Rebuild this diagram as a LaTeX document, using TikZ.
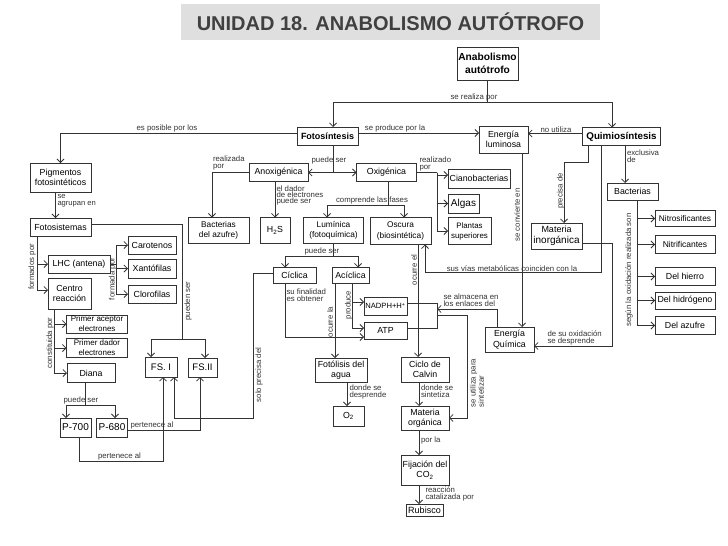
\documentclass[tikz,border=0pt]{standalone}
\usepackage{fontspec}
\setmainfont{Liberation Sans}
\usetikzlibrary{arrows.meta}
\definecolor{lc}{HTML}{333333}
\newcommand\myfs[2]{\fontsize{#1}{#2}\selectfont}
\begin{document}
\begin{tikzpicture}[x=1pt,y=-1pt,
  box/.style={draw=lc, fill=white, line width=0.8pt, align=center, inner sep=0pt, outer sep=0pt, text=black, font=\myfs{8.8}{10.5}},
  bbox/.style={box, font=\bfseries\myfs{9}{11}},
  lab/.style={font=\myfs{7.8}{7}, inner sep=0.3pt, align=left, text=lc},
  vlab/.style={lab, rotate=90, anchor=center},
  ln/.style={draw=lc, line width=0.8pt},
  arr/.style={ln, -{Straight Barb[length=3.5pt,width=7pt]}},
]
\useasboundingbox (0,0) rectangle (728,546);
\fill[white] (0,0) rectangle (728,546);
% title
\fill[gray!25] (181,4) rectangle (600,40);
\node[font=\bfseries\myfs{20}{22}, text=black!75] (title) at (390.5,22) {UNIDAD 18. ANABOLISMO AUTÓTROFO};

% nodes
\node[bbox, font=\bfseries\myfs{10.2}{13}, minimum width=61pt, minimum height=33pt] (anab) at (487.5,63.5) {Anabolismo\\autótrofo};
\node[bbox, minimum width=61pt, minimum height=18pt] (foto) at (327.5,136) {Fotosíntesis};
\node[box, minimum width=49pt, minimum height=27pt] (enlum) at (503.5,139.5) {Energía\\luminosa};
\node[bbox, font=\bfseries\myfs{9.8}{11}, minimum width=78pt, minimum height=18pt] (quimio) at (621.5,136.5) {Quimiosíntesis};
\node[box, minimum width=61pt, minimum height=29pt] (pigm) at (60.5,177.5) {Pigmentos\\fotosintéticos};
\node[box, minimum width=61pt, minimum height=18pt] (fotosis) at (60.5,227) {Fotosistemas};
\node[box, minimum width=48pt, minimum height=18pt] (carot) at (152,245) {Carotenos};
\node[box, minimum width=48pt, minimum height=19pt] (xanto) at (152,268.5) {Xantófilas};
\node[box, minimum width=48pt, minimum height=18pt] (cloro) at (152,294) {Clorofilas};
\node[box, minimum width=62pt, minimum height=18pt] (lhc) at (79,264) {LHC (antena)};
\node[box, minimum width=43pt, minimum height=31pt] (centro) at (69.5,293.5) {Centro\\reacción};
\node[box, font=\myfs{8}{10}, minimum width=61pt, minimum height=18pt] (aceptor) at (97,324) {Primer aceptor\\electrones};
\node[box, font=\myfs{8}{10}, minimum width=61pt, minimum height=19pt] (dador) at (97,348) {Primer dador\\electrones};
\node[box, minimum width=48pt, minimum height=19pt] (diana) at (91,373) {Diana};
\node[box, font=\myfs{10}{11}, minimum width=31pt, minimum height=19pt] (p700) at (75.5,427.5) {P-700};
\node[box, font=\myfs{10}{11}, minimum width=31pt, minimum height=19pt] (p680) at (112,427.5) {P-680};
\node[box, font=\myfs{9.5}{11}, minimum width=32pt, minimum height=20pt] (fs1) at (161,367) {FS. I};
\node[box, font=\myfs{9.5}{11}, minimum width=29pt, minimum height=19pt] (fs2) at (202.5,367.5) {FS.II};
\node[box, font=\myfs{8.3}{10}, minimum width=61pt, minimum height=26pt] (bact) at (218.5,230.5) {Bacterias\\del azufre)};
\node[box, minimum width=30pt, minimum height=26pt] (h2s) at (275,230.5) {H\textsubscript{2}S};
\node[box, font=\myfs{8.3}{10.5}, minimum width=60pt, minimum height=26pt] (lumi) at (333.5,230.5) {Lumínica\\(fotoquímica)};
\node[box, font=\myfs{8.3}{10.5}, minimum width=61pt, minimum height=27pt] (oscura) at (400.5,231) {Oscura\\(biosintética)};
\node[box, font=\myfs{7.9}{10}, minimum width=43pt, minimum height=27pt] (plantas) at (469.5,231) {Plantas\\superiores};
\node[box, minimum width=59pt, minimum height=18pt] (anox) at (278.5,172.5) {Anoxigénica};
\node[box, minimum width=60pt, minimum height=18pt] (oxig) at (386.5,172.5) {Oxigénica};
\node[box, minimum width=62pt, minimum height=19pt] (ciano) at (479,178.5) {Cianobacterias};
\node[box, font=\myfs{10}{11}, minimum width=31pt, minimum height=19pt] (algas) at (463.5,203.5) {Algas};
\node[box, font=\myfs{9}{11}, minimum width=51pt, minimum height=26pt] (matinorg) at (556.5,236) {Materia\\{\myfs{10}{11}inorgánica}};
\node[box, minimum width=51pt, minimum height=17pt] (bact2) at (632.5,191.5) {Bacterias};
\node[box, font=\myfs{8.3}{10}, minimum width=60pt, minimum height=16pt] (nitros) at (685,218.5) {Nitrosificantes};
\node[box, font=\myfs{8.5}{10}, minimum width=60pt, minimum height=18pt] (nitrif) at (685,244.5) {Nitrificantes};
\node[box, minimum width=60pt, minimum height=18pt] (hierro) at (685,276.5) {Del hierro};
\node[box, minimum width=60pt, minimum height=17pt] (hidro) at (685,300.5) {Del hidrógeno};
\node[box, minimum width=60pt, minimum height=18pt] (azufre) at (685,325.5) {Del azufre};
\node[box, minimum width=43pt, minimum height=16pt] (ciclica) at (294.5,275.5) {Cíclica};
\node[box, minimum width=37pt, minimum height=16pt] (aciclica) at (350.5,275.5) {Acíclica};
\node[box, font=\myfs{7.6}{9}, minimum width=43pt, minimum height=18pt] (nadph) at (385.5,306) {NADPH+H\textsuperscript{+}};
\node[box, minimum width=43pt, minimum height=17pt] (atp) at (385.5,330.5) {ATP};
\node[box, minimum width=49pt, minimum height=25pt] (enquim) at (509.5,339.5) {Energía\\Química};
\node[box, minimum width=52pt, minimum height=24pt] (fotol) at (341,370) {Fotólisis del\\agua};
\node[box, minimum width=31pt, minimum height=20pt] (o2) at (348.5,416) {O\textsubscript{2}};
\node[box, minimum width=48pt, minimum height=25pt] (calvin) at (425,369.5) {Ciclo de\\Calvin};
\node[box, minimum width=48pt, minimum height=24pt] (matorg) at (425,418) {Materia\\orgánica};
\node[box, minimum width=48pt, minimum height=30pt] (fijacion) at (425,470) {Fijación del\\CO\textsubscript{2}};
\node[box, font=\myfs{9}{10}, minimum width=37pt, minimum height=12pt] (rubisco) at (424.5,510) {Rubisco};

% anab -> foto, quimio
\coordinate (j1) at (487.5,102);
\draw[ln] (anab.south) -- (j1);
\draw[arr] (j1) -| ([xshift=5.5pt]foto.north);
\draw[arr] (j1) -| ([xshift=-9.5pt]quimio.north);
\node[lab, anchor=south] (l1) at (474,102) {se realiza por};
% es posible por los
\draw[arr] ([yshift=3pt]foto.west) -| (pigm.north);
\node[lab, anchor=south] (l2) at (167,133) {es posible por los};
% se produce por la
\draw[arr] ([yshift=3pt]foto.east) -- ([yshift=3pt]foto.east -| enlum.west);
\node[lab, anchor=south] (l3) at (395,133) {se produce por la};
% no utiliza
\draw[arr] ([yshift=3pt]quimio.west) -- ([yshift=3pt]quimio.west -| enlum.east);
\node[lab, anchor=south] (l4) at (556,133.5) {no utiliza};
% se agrupan en
\draw[arr] ([xshift=-5pt]pigm.south) -- ([xshift=-5pt]pigm.south |- fotosis.north);
\node[lab, anchor=north west, font=\myfs{7.6}{6.8}] (l5) at (57,194) {se\\agrupan en};
% pueden ser
\coordinate (j2) at (182,339);
\draw[ln] ([yshift=3pt]fotosis.east) -| (j2);
\draw[arr] (j2) -| ([xshift=-10pt]fs1.north);
\draw[arr] (j2) -| ([xshift=2.5pt]fs2.north);
\node[vlab] (l6) at (188,301) {pueden ser};
% formados por
\coordinate (j3) at (37,264);
\coordinate (j3b) at (37,290);
\draw[ln] (fotosis.south -| j3) -- (j3b);
\draw[arr] (j3) -- (lhc.west);
\draw[arr] (j3b) -- (j3b -| centro.west);
\node[vlab] (l7) at (32,267) {formados por};
% formada por
\coordinate (j4) at (116,264);
\draw[ln] (lhc.east) -- (j4);
\draw[arr] (j4) |- (carot.west);
\draw[arr] (j4) |- (xanto.west);
\draw[arr] (j4) |- (cloro.west);
\node[vlab] (l8) at (112.5,279) {formada por};
% constituida por
\draw[arr] ([xshift=-15.5pt]centro.south) |- (aceptor.west);
\draw[arr] ([xshift=-15.5pt]centro.south) |- (dador.west);
\draw[arr] ([xshift=-15.5pt]centro.south) |- (diana.west);
\node[vlab] (l9) at (50,343) {constituida por};
% puede ser (P)
\coordinate (j5) at (85,405);
\draw[ln] (diana.south -| j5) -- (j5);
\draw[arr] (j5) -| ([xshift=-9.5pt]p700.north);
\draw[arr] (j5) -| ([xshift=3pt]p680.north);
\node[lab, anchor=south] (l10) at (81,405) {puede ser};
% pertenece al (P-680)
\draw[arr] ([yshift=-2.5pt]p680.east) -| ([xshift=-2.5pt]fs2.south);
\node[lab, anchor=south] (l11) at (152,430) {pertenece al};
% pertenece al (P-700)
\draw[arr] ([xshift=3.5pt]p700.south) -- ++(0,24) -| ([xshift=2pt]fs1.south);
\node[lab, anchor=south] (l12) at (119.5,461) {pertenece al};
% solo precisa del
\draw[arr] ([yshift=2.5pt]ciclica.west) -| (253,418) -| ([xshift=13pt]fs1.south);
\node[vlab] (l13) at (259,375) {solo precisa del};
% puede ser (anox/oxig)
\coordinate (j7) at (333,172.5);
\draw[ln] ([xshift=5.5pt]foto.south) -- (j7);
\draw[arr] (j7) -- (anox.east);
\draw[arr] (j7) -- (oxig.west);
\node[lab, anchor=south] (l14) at (329,165) {puede ser};
% realizada por
\draw[arr] (anox.west) -| ([xshift=-6.5pt]bact.north);
\node[lab, anchor=south west] (l15) at (212.5,170.5) {realizada\\por};
% el dador
\draw[arr] ([xshift=-3.5pt]anox.south) -- ([xshift=-3.5pt]anox.south |- h2s.north);
\node[lab, anchor=north west, font=\myfs{7.8}{6.3}] (l16) at (276,185) {el dador\\de electrones\\puede ser};
% comprende las fases
\coordinate (j8) at (388,205);
\draw[ln] (oxig.south -| j8) -- (j8);
\draw[arr] (j8) -| ([xshift=-6.5pt]lumi.north);
\draw[arr] (j8) -| ([xshift=3.5pt]oscura.north);
\node[lab, anchor=south] (l17) at (372,205) {comprende las fases};
% realizado por
\coordinate (j9) at (437,172.5);
\draw[ln] (oxig.east) -- (j9);
\draw[arr] (j9) |- ([yshift=3.5pt]ciano.west);
\draw[arr] (j9) |- (algas.west);
\draw[arr] (j9) |- (plantas.west);
\node[lab, anchor=south west] (l18) at (419,172) {realizado\\por};
% se convierte en
\draw[arr] ([xshift=18.5pt]enlum.south) -- ([xshift=18.5pt]enlum.south |- enquim.north);
\node[vlab] (l19) at (517,215) {se convierte en};
% precisa de
\draw[arr] ([xshift=-33.5pt]quimio.south) -- ++(0,17) -| ([xshift=7.5pt]matinorg.north);
\node[vlab] (l20) at (560.5,191) {precisa de};
% sus vias
\draw[arr] ([xshift=-20.5pt]quimio.south) |- (425,272) -- ([xshift=24.5pt]oscura.south);
\node[lab, anchor=south] (l21) at (512,272) {sus vías metabólicas coinciden con la};
% de su oxidacion
\draw[arr] ([yshift=-7pt]matinorg.east) -| (612,346) -- ([yshift=-6.5pt]enquim.east);
\node[lab, anchor=south west] (l22) at (547,345.5) {de su oxidación\\se desprende};
% se almacena
\coordinate (br) at (437,309);
\draw[arr] ([xshift=-12.5pt]enquim.north) |- (br);
\node[lab, anchor=south west] (l23) at (443,307.5) {se almacena en\\los enlaces del};
% bracket NADPH/ATP
\draw[ln] ([yshift=3pt]nadph.east) -- ++(30,0) |- ([yshift=2.5pt]atp.east);
\coordinate (br2) at (437,315);
\draw[arr] (br2) -| (467,418) -- (matorg.east);
\node[vlab] (l24) at (477,383) {se utiliza para\\sintetizar};
% puede ser (lum)
\coordinate (j10) at (333.5,256);
\draw[ln] (lumi.south) -- (j10);
\draw[arr] (j10) -| ([xshift=-9.5pt]ciclica.north);
\draw[arr] (j10) -| ([xshift=7.5pt]aciclica.north);
\node[lab, anchor=south] (l25) at (322,256) {puede ser};
% su finalidad
\draw[arr] ([xshift=-9.5pt]ciclica.south) |- ([yshift=-6.5pt]atp.west);
\node[lab, anchor=north west] (l26) at (286,288) {su finalidad\\es obtener};
% produce
\draw[arr] ([xshift=1.5pt]aciclica.south) |- ([yshift=4pt]nadph.west);
\draw[arr] ([xshift=1.5pt]aciclica.south) |- ([yshift=2.5pt]atp.west);
\node[vlab] (l27) at (348.5,305) {produce};
% ocurre la
\draw[arr] ([xshift=-15.5pt]aciclica.south) -- ([xshift=-15.5pt]aciclica.south |- fotol.north);
\node[vlab] (l28) at (330,322) {ocurre la};
% ocurre el
\draw[arr] ([xshift=17.5pt]oscura.south) -- ([xshift=17.5pt]oscura.south |- calvin.north);
\node[vlab] (l29) at (414,270) {ocurre el};
% donde se desprende
\draw[arr] ([xshift=6pt]fotol.south) -- ([xshift=6pt]fotol.south |- o2.north);
\node[lab, anchor=north west] (l30) at (349,384) {donde se\\desprende};
% calvin -> materia organica
\draw[arr] ([xshift=-6pt]calvin.south) -- ([xshift=-6pt]calvin.south |- matorg.north);
\node[lab, anchor=north west] (l31) at (420.5,384) {donde se\\sintetiza};
\draw[arr] ([xshift=-6pt]matorg.south) -- ([xshift=-6pt]matorg.south |- fijacion.north);
\node[lab, anchor=west] (l32) at (420.5,440) {por la};
\draw[arr] ([xshift=-6pt]fijacion.south) -- ([xshift=-6pt]fijacion.south |- rubisco.north);
\node[lab, anchor=north west] (l33) at (425,486) {reacción\\catalizada por};
% exclusiva de
\draw[arr] ([xshift=-7.5pt]bact2.north |- quimio.south) -- ([xshift=-7.5pt]bact2.north);
\node[lab, anchor=north west] (l34) at (626.5,149) {exclusiva\\de};
% segun la oxidacion
\draw[arr] ([xshift=4.5pt]bact2.south) |- (nitros.west);
\draw[arr] ([xshift=4.5pt]bact2.south) |- (nitrif.west);
\draw[arr] ([xshift=4.5pt]bact2.south) |- (hierro.west);
\draw[arr] ([xshift=4.5pt]bact2.south) |- (hidro.west);
\draw[arr] ([xshift=4.5pt]bact2.south) |- (azufre.west);
\node[vlab] (l35) at (629,270) {según la oxidación realizada son};
\end{tikzpicture}
\end{document}
